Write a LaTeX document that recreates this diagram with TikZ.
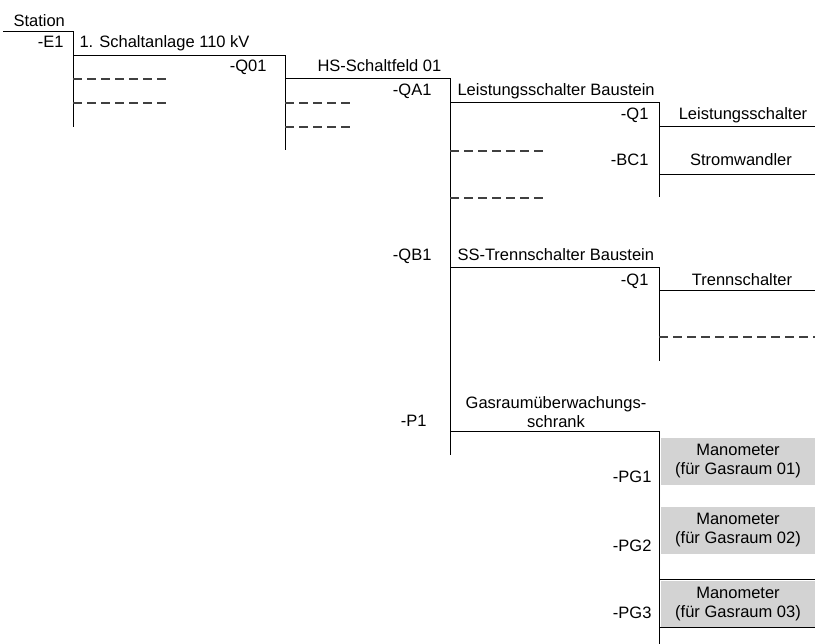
\documentclass[tikz,border=0pt]{standalone}
\usepackage{fontspec}
\setmainfont{Liberation Sans}
\definecolor{boxgrey}{RGB}{211,211,211}

\begin{document}
\begin{tikzpicture}[x=1pt,y=-1pt,line width=1pt,
	every node/.style={inner sep=0pt,font=\fontsize{16.5}{19}\selectfont},
	devtag/.style={anchor=base east},
	devtext/.style={anchor=base west},
	devmid/.style={anchor=base},
	spare/.style={draw=black!75,line width=1.1pt,dash pattern=on 8.5pt off 5.5pt},
	gauge/.style={fill=boxgrey,align=center,minimum width=154,minimum height=47}]
						\useasboundingbox (0,0) rectangle (815,644);
						\draw(3,32) -- (73,32) -- (73,127);
						\draw(73,56) -- (285,56) -- (285,150);
						\draw(285,79) -- (450,79) -- (450,455);
						\draw(450,103) -- (659,103) -- (659,197);
						\draw(659,127) -- (815,127);
						\draw(659,175) -- (815,175);
						\draw(450,268) -- (659,268) -- (659,361);
						\draw(659,291) -- (815,291);
						\draw(450,432) -- (659,432) -- (659,644);
						\draw[spare](73,79) -- (168,79);
						\draw[spare](73,103) -- (168,103);
						\draw[spare](285,103) -- (350,103);
						\draw[spare](285,127) -- (350,127);
						\draw[spare](450,151) -- (543,151);
						\draw[spare](450,198) -- (543,198);
						\draw[spare](659,337) -- (815,337);
						\node[gauge] (pg1box) at (738,461.5) {Manometer\\(für Gasraum 01)};
						\node[gauge] (pg2box) at (738,530.5) {Manometer\\(für Gasraum 02)};
						\node[gauge] (pg3box) at (738,604) {Manometer\\(für Gasraum 03)};
						\draw(659,579) -- (815,579);
						\draw(659,627) -- (815,627);
						\node[devtext] (station) at (13,27) {Station};
						\node[devtag] (e1) at (64,48) {-E1};
						\node[devtext] (e1text) at (79,48) {1. Schaltanlage 110 kV};
						\node[devtag] (q01) at (267,72) {-Q01};
						\node[devtext] (q01text) at (317,72) {HS-Schaltfeld 01};
						\node[devtag] (qa1) at (432,96) {-QA1};
						\node[devtext] (qa1text) at (457,96) {Leistungsschalter Baustein};
						\node[devtag] (qa1q1) at (649,120) {-Q1};
						\node[devmid] (qa1q1text) at (743,120) {Leistungsschalter};
						\node[devtag] (bc1) at (649,166) {-BC1};
						\node[devmid] (bc1text) at (741,166) {Stromwandler};
						\node[devtag] (qb1) at (432,261) {-QB1};
						\node[devtext] (qb1text) at (457,261) {SS-Trennschalter Baustein};
						\node[devtag] (qb1q1) at (649,286) {-Q1};
						\node[devmid] (qb1q1text) at (742,286) {Trennschalter};
						\node[devtag] (p1) at (427,427) {-P1};
						\node[devmid,align=center] (p1text) at (556,428) {Gasraumüberwachungs-\\schrank};
						\node[devtag] (pg1) at (652,483) {-PG1};
						\node[devtag] (pg2) at (652,551) {-PG2};
						\node[devtag] (pg3) at (652,619) {-PG3};
					\end{tikzpicture}
\end{document}
